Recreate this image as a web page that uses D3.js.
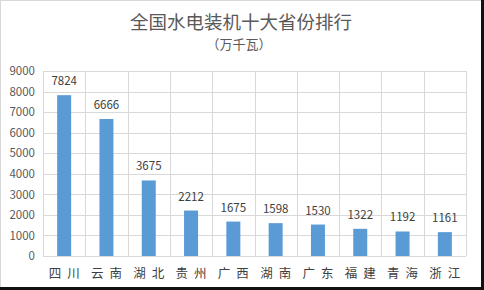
<!DOCTYPE html>
<html>
<head>
<meta charset="utf-8">
<script src="https://cdn.jsdelivr.net/npm/d3@7"></script>
<style>
  body { margin: 0; background: #fff; }
  svg { display: block; font-family: "Noto Sans CJK SC", "Noto Sans", sans-serif; }
</style>
</head>
<body>
<svg id="canvas" width="484" height="290"></svg>
<script>
let provinces = ['四川', '云南', '湖北', '贵州', '广西', '湖南', '广东', '福建', '青海', '浙江']
let capacity = [7824, 6666, 3675, 2212, 1675, 1598, 1530, 1322, 1192, 1161]
let yTicks = [0, 1000, 2000, 3000, 4000, 5000, 6000, 7000, 8000, 9000]

let canvas = d3.select('#canvas')

let plotLeft = 43, plotRight = 466, plotTop = 71, plotBottom = 256

let xScale = d3.scaleBand().domain(provinces).range([plotLeft, plotRight]).paddingInner(0).paddingOuter(0)
let yScale = d3.scaleLinear().domain([0, 9000]).range([plotBottom, plotTop])

// frame
canvas.append('rect').attr('x', 0.5).attr('y', 0.5).attr('width', 482).attr('height', 288)
    .attr('fill', 'none').attr('stroke', '#d8d8d8')
canvas.append('line').attr('x1', 482.5).attr('x2', 482.5).attr('y1', 0).attr('y2', 290)
    .attr('stroke', '#111').attr('stroke-width', 3)
canvas.append('line').attr('x1', 0).attr('x2', 484).attr('y1', 288.5).attr('y2', 288.5)
    .attr('stroke', '#111').attr('stroke-width', 3)

// title
canvas.append('text').text('全国水电装机十大省份排行')
    .attr('x', 241).attr('y', 29).attr('text-anchor', 'middle')
    .attr('font-size', 18.5).attr('fill', '#595959')
canvas.append('text').text('（万千瓦）')
    .attr('x', 239).attr('y', 49).attr('text-anchor', 'middle')
    .attr('font-size', 13).attr('fill', '#595959')

// horizontal gridlines
canvas.append('g').selectAll('line')
    .data(yTicks)
    .enter()
    .append('line')
    .attr('x1', plotLeft).attr('x2', plotRight)
    .attr('y1', (d) => Math.round(yScale(d)) + 0.5)
    .attr('y2', (d) => Math.round(yScale(d)) + 0.5)
    .attr('stroke', '#d9d9d9')

// vertical gridlines at category boundaries
let bounds = provinces.map((p) => xScale(p)).concat([plotRight])
canvas.append('g').selectAll('line')
    .data(bounds)
    .enter()
    .append('line')
    .attr('x1', (d) => Math.round(d) + 0.5).attr('x2', (d) => Math.round(d) + 0.5)
    .attr('y1', plotTop).attr('y2', plotBottom)
    .attr('stroke', '#d9d9d9')

// y tick labels
let yAxis = d3.axisLeft(yScale).tickValues(yTicks).tickFormat(d3.format('d')).tickSize(0).tickPadding(8)
let yG = canvas.append('g').attr('transform', 'translate(' + plotLeft + ',0)').call(yAxis)
yG.select('.domain').remove()
yG.selectAll('text').attr('font-size', 11.5).attr('fill', '#595959')
    .attr('font-family', '"Noto Sans CJK SC", "Noto Sans", sans-serif')

// bars
let barW = 14
canvas.append('g').selectAll('rect')
    .data(provinces)
    .enter()
    .append('rect')
    .attr('x', (p) => xScale(p) + xScale.bandwidth() / 2 - barW / 2)
    .attr('y', (p, i) => yScale(capacity[i]))
    .attr('width', barW)
    .attr('height', (p, i) => plotBottom - yScale(capacity[i]))
    .attr('fill', '#5b9bd5')

// value labels
canvas.append('g').selectAll('text')
    .data(provinces)
    .enter()
    .append('text')
    .text((p, i) => capacity[i])
    .attr('x', (p) => xScale(p) + xScale.bandwidth() / 2)
    .attr('y', (p, i) => yScale(capacity[i]) - 10)
    .attr('text-anchor', 'middle')
    .attr('font-size', 11.5).attr('fill', '#404040')

// category labels
canvas.append('g').selectAll('text')
    .data(provinces)
    .enter()
    .append('text')
    .text((p) => p)
    .attr('x', (p) => xScale(p) + xScale.bandwidth() / 2)
    .attr('y', 278)
    .attr('text-anchor', 'middle')
    .attr('letter-spacing', 6)
    .attr('dx', 3)
    .attr('font-size', 12.5).attr('fill', '#404040')
</script>
</body>
</html>
